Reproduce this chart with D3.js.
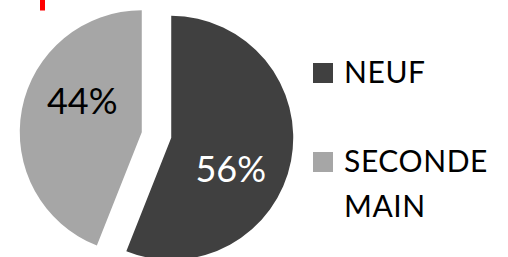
<!DOCTYPE html>
<html>
<head>
<meta charset="utf-8">
<script src="https://cdn.jsdelivr.net/npm/d3@7"></script>
<style>
  html, body { margin: 0; padding: 0; background: #fff; }
  svg { display: block; font-family: Lato, "Open Sans", sans-serif; }
</style>
</head>
<body>
<div id="chart"></div>
<script>
// chart data
const categories = ['NEUF', 'SECONDE MAIN'];
const values = [56, 44];
const colors = ['#404040', '#a6a6a6'];
const labelColors = ['#ffffff', '#000000'];

const width = 508, height = 257;
const cx = 156.5, cy = 135, radius = 122, explode = 15;

const svg = d3.select('#chart').append('svg')
  .attr('width', width)
  .attr('height', height);

// small red marker top left
svg.append('rect')
  .attr('x', 40).attr('y', 0)
  .attr('width', 5).attr('height', 10.5)
  .attr('fill', '#ff0000');

const pie = d3.pie().sort(null).value(d => d)(values);
const arc = d3.arc().innerRadius(0).outerRadius(radius);

const slices = svg.append('g')
  .attr('transform', `translate(${cx},${cy})`)
  .selectAll('g')
  .data(pie)
  .join('g')
  .attr('transform', d => {
    const mid = (d.startAngle + d.endAngle) / 2;
    return `translate(${Math.sin(mid) * explode},${-Math.cos(mid) * explode})`;
  });

slices.append('path')
  .attr('d', arc)
  .attr('fill', (d, i) => colors[i]);

// percentage labels
const total = d3.sum(values);
slices.append('text')
  .attr('transform', d => {
    const a = (d.startAngle + d.endAngle) / 2 + 0.29;
    const r = 67;
    return `translate(${Math.sin(a) * r},${-Math.cos(a) * r + 13})`;
  })
  .attr('text-anchor', 'middle')
  .attr('font-size', 36)
  .attr('fill', (d, i) => labelColors[i])
  .text(d => Math.round(d.value / total * 100) + '%');

// legend
const legendY = [73, 162];
const legend = svg.append('g').selectAll('g')
  .data(categories)
  .join('g')
  .attr('transform', (d, i) => `translate(313,${legendY[i]})`);

legend.append('rect')
  .attr('x', 0).attr('y', -10)
  .attr('width', 20).attr('height', 20)
  .attr('fill', (d, i) => colors[i]);

legend.append('text')
  .attr('x', 31)
  .attr('font-size', 30)
  .attr('letter-spacing', 0.6)
  .attr('fill', '#000')
  .selectAll('tspan')
  .data(d => d.split(' '))
  .join('tspan')
  .attr('x', 31)
  .attr('y', (d, i) => 10 + i * 45)
  .text(d => d);
</script>
</body>
</html>
